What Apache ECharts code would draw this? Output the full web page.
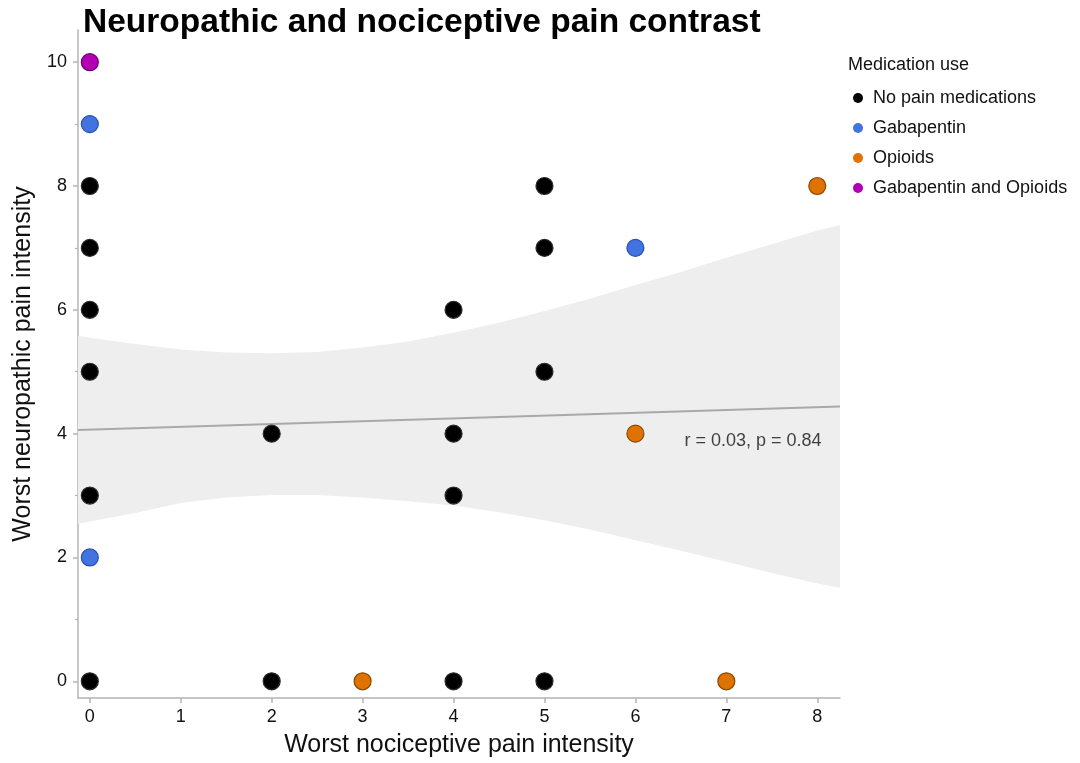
<!DOCTYPE html>
<html>
<head>
<meta charset="utf-8">
<title>Neuropathic and nociceptive pain contrast</title>
<script src="https://cdn.jsdelivr.net/npm/echarts@6/dist/echarts.min.js"></script>
<style>
  html, body { margin: 0; padding: 0; background: #ffffff; }
  #chart { width: 1080px; height: 763px; }
</style>
</head>
<body>
<div id="chart"></div>
<script>
// Patients: [worst nociceptive, worst neuropathic] by medication group
const noMedication = [
  [0, 8], [0, 7], [0, 6], [0, 5], [0, 3], [0, 0],
  [2, 4], [2, 0],
  [4, 6], [4, 4], [4, 3], [4, 0],
  [5, 8], [5, 7], [5, 5], [5, 0]
];
const gabapentin = [[0, 9], [0, 2], [6, 7]];
const opioids = [[3, 0], [7, 0], [6, 4], [8, 8]];
const gabapentinOpioids = [[0, 10]];

const groupNames = ['No pain medications', 'Gabapentin', 'Opioids', 'Gabapentin and Opioids'];

// Linear fit and its 95% confidence band
const fitX = [-0.13, 8.25];
const fitY = [4.06, 4.44];
const bandX = [-0.13, 0, 0.5, 1, 1.5, 2, 2.5, 3, 3.5, 4, 4.5, 5, 5.5, 6, 6.5, 7, 7.5, 8, 8.25];
const bandUpper = [5.58, 5.55, 5.45, 5.36, 5.31, 5.30, 5.32, 5.39, 5.49, 5.63, 5.79, 5.98, 6.18, 6.40, 6.61, 6.84, 7.06, 7.28, 7.37];
const bandLower = [2.54, 2.58, 2.72, 2.88, 2.97, 3.01, 3.01, 2.97, 2.91, 2.84, 2.73, 2.60, 2.45, 2.28, 2.11, 1.93, 1.75, 1.58, 1.51];

const statsText = 'r = 0.03, p = 0.84';
const statsAt = [6.54, 3.88];

const xTicks = [0, 1, 2, 3, 4, 5, 6, 7, 8];
const yTicks = [0, 2, 4, 6, 8, 10];
const yMinorTicks = [1, 3, 5, 7, 9];

const FONT = '"Liberation Sans", Arial, Helvetica, sans-serif';
const AXIS_GREY = '#b4b4b4';

const chart = echarts.init(document.getElementById('chart'), null, { renderer: 'canvas' });

function pointStyle(fill, border) {
  return { color: fill, borderColor: border, borderWidth: 1.2, opacity: 1 };
}

const axisCommon = {
  type: 'value',
  splitLine: { show: false },
  axisLine: { show: true, onZero: false, lineStyle: { color: AXIS_GREY, width: 1.5 } }
};

const option = {
  backgroundColor: '#ffffff',
  animation: false,
  textStyle: { fontFamily: FONT },
  title: {
    text: 'Neuropathic and nociceptive pain contrast',
    left: 78,
    top: 1,
    textStyle: { fontFamily: FONT, fontSize: 33.5, fontWeight: 'bold', color: '#000000' }
  },
  grid: { left: 78, top: 30, width: 762, height: 670, containLabel: false },
  legend: {
    orient: 'vertical',
    left: 848,
    top: 84,
    itemWidth: 10,
    itemHeight: 10,
    itemGap: 12,
    icon: 'circle',
    data: groupNames,
    itemStyle: { borderWidth: 0 },
    textStyle: { fontFamily: FONT, fontSize: 18, color: '#111111', padding: [0, 0, 0, 5] }
  },
  graphic: [
    {
      type: 'text',
      left: 848,
      top: 56,
      style: { text: 'Medication use', font: '18px ' + FONT, fill: '#111111' }
    }
  ],
  xAxis: Object.assign({}, axisCommon, {
    min: -0.13,
    max: 8.25,
    name: 'Worst nociceptive pain intensity',
    nameLocation: 'middle',
    nameGap: 35,
    nameTextStyle: { fontFamily: FONT, fontSize: 25, color: '#111111' },
    axisTick: { show: true, length: 5, customValues: xTicks, lineStyle: { color: AXIS_GREY, width: 1.5 } },
    axisLabel: { customValues: xTicks, margin: 10, fontFamily: FONT, fontSize: 18, color: '#111111' }
  }),
  yAxis: [
    Object.assign({}, axisCommon, {
      min: -0.27,
      max: 10.52,
      name: 'Worst neuropathic pain intensity',
      nameLocation: 'middle',
      nameGap: 42,
      nameTextStyle: { fontFamily: FONT, fontSize: 25, color: '#111111' },
      axisTick: { show: true, length: 5, customValues: yTicks, lineStyle: { color: AXIS_GREY, width: 1.5 } },
      axisLabel: { customValues: yTicks, margin: 11, fontFamily: FONT, fontSize: 18, color: '#111111' }
    }),
    {
      // minor ticks on odd values, sharing the left edge
      type: 'value',
      position: 'left',
      min: -0.27,
      max: 10.52,
      splitLine: { show: false },
      axisLine: { show: false, onZero: false },
      axisTick: { show: true, length: 3, customValues: yMinorTicks, lineStyle: { color: AXIS_GREY, width: 1.2 } },
      axisLabel: { show: false }
    }
  ],
  series: [
    {
      name: 'confidence band',
      type: 'custom',
      z: 1,
      silent: true,
      data: [[bandX[0], bandUpper[0], bandLower[0]]],
      encode: { x: 0, y: [1, 2] },
      renderItem: function (params, api) {
        const pts = [];
        for (let i = 0; i < bandX.length; i++) pts.push(api.coord([bandX[i], bandUpper[i]]));
        for (let i = bandX.length - 1; i >= 0; i--) pts.push(api.coord([bandX[i], bandLower[i]]));
        return {
          type: 'polygon',
          shape: { points: pts },
          style: { fill: '#eeeeee', stroke: null }
        };
      }
    },
    {
      name: 'fit',
      type: 'line',
      z: 2,
      silent: true,
      symbol: 'none',
      data: fitX.map((x, i) => [x, fitY[i]]),
      lineStyle: { color: '#a9a9a9', width: 2 }
    },
    {
      name: 'stats',
      type: 'scatter',
      z: 3,
      silent: true,
      symbolSize: 0,
      data: [statsAt],
      label: {
        show: true,
        position: 'inside',
        align: 'left',
        verticalAlign: 'middle',
        formatter: statsText,
        fontFamily: FONT,
        fontSize: 18,
        color: '#111111'
      }
    },
    {
      name: groupNames[0],
      type: 'scatter',
      z: 5,
      symbolSize: 17,
      data: noMedication,
      itemStyle: pointStyle('#000000', '#2a2a2a')
    },
    {
      name: groupNames[1],
      type: 'scatter',
      z: 5,
      symbolSize: 17,
      data: gabapentin,
      itemStyle: pointStyle('#4273e0', '#2650b0')
    },
    {
      name: groupNames[2],
      type: 'scatter',
      z: 5,
      symbolSize: 17,
      data: opioids,
      itemStyle: pointStyle('#e07200', '#8c4800')
    },
    {
      name: groupNames[3],
      type: 'scatter',
      z: 5,
      symbolSize: 17,
      data: gabapentinOpioids,
      itemStyle: pointStyle('#b300b5', '#6c006e')
    }
  ]
};

chart.setOption(option);
</script>
</body>
</html>
